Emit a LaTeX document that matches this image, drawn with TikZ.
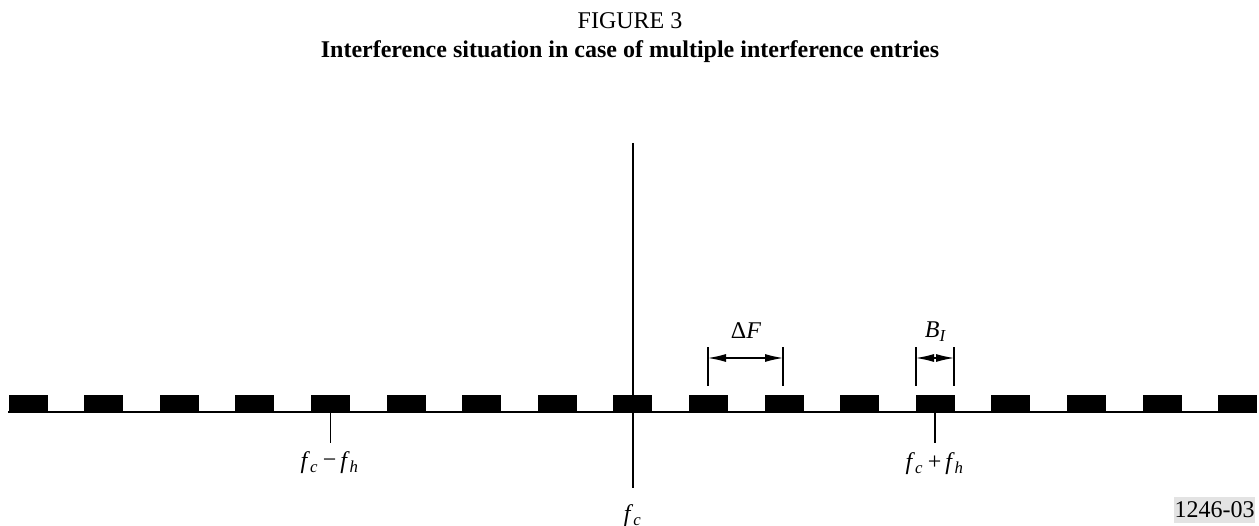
\documentclass[tikz,border=0pt]{standalone}
\usepackage{fontspec}
\setmainfont{Liberation Serif}
\usetikzlibrary{arrows.meta}
\tikzset{
  blk/.style={fill=black, draw=none},
  lbl/.style={font=\fontsize{9.6}{11}\selectfont, inner sep=0pt},
  thin tick/.style={line width=0.45pt},
  dim/.style={line width=0.45pt, {Latex[length=7.2pt,width=3.2pt]}-{Latex[length=7.2pt,width=3.2pt]}}
}
\newcommand{\itl}[1]{\textit{#1}}
\begin{document}
\begin{tikzpicture}[x=0.4pt,y=-0.4pt]
\useasboundingbox (0,0) rectangle (1259,526);
% titles
\node[lbl, anchor=base] (t1) at (630,29) {FIGURE 3};
\node[lbl, anchor=base, font=\fontsize{9.6}{11}\selectfont\bfseries] (t2) at (630,58) {Interference situation in case of multiple interference entries};
% baseline and blocks
\draw[line width=0.8pt] (8,412) coordinate (bl) -- (1257,412) coordinate (br);
\foreach \k in {0,...,16}{
  \fill[blk] ({8.5+75.6*\k},395) rectangle ({47.5+75.6*\k},413);
}
% centre line
\coordinate (ctop) at (633,143);
\coordinate (cbot) at (633,488);
\draw[line width=0.8pt] (ctop) -- (cbot);
\node[lbl] (fc) at (633,516) {\itl{f}\textsubscript{\itl{c}}};
% ticks for fc-fh and fc+fh
\coordinate (m1) at (330.4,413);
\coordinate (m2) at (330.4,443);
\draw[thin tick] (m1) -- (m2);
\node[lbl] (fm) at (330,463) {\itl{f}\textsubscript{\itl{c}}\,\raisebox{0.1ex}{−}\,\itl{f}\textsubscript{\itl{h}}};
\coordinate (p1) at (935,413);
\coordinate (p2) at (935,443);
\draw[thin tick] (p1) -- (p2);
\node[lbl] (fp) at (935,464) {\itl{f}\textsubscript{\itl{c}}\,+\,\itl{f}\textsubscript{\itl{h}}};
% Delta F
\coordinate (d1t) at (708,347); \coordinate (d1b) at (708,386);
\coordinate (d2t) at (783,347); \coordinate (d2b) at (783,386);
\draw[thin tick] (d1t) -- (d1b);
\draw[thin tick] (d2t) -- (d2b);
\coordinate (da) at (708,358); \coordinate (db) at (783,358);
\draw[dim] (da) -- (db);
\node[lbl] (dF) at (746,331) {Δ\itl{F}};
% B_I
\coordinate (b1t) at (916,347); \coordinate (b1b) at (916,386);
\coordinate (b2t) at (954,347); \coordinate (b2b) at (954,386);
\draw[thin tick] (b1t) -- (b1b);
\draw[thin tick] (b2t) -- (b2b);
\coordinate (ba) at (916,358); \coordinate (bb) at (954,358);
\draw[dim] (ba) -- (bb);
\node[lbl] (BI) at (936,332) {\itl{B}\textsubscript{\itl{I}}};
% figure id
\node[lbl, fill=black!11, minimum width=81*0.4pt, minimum height=26*0.4pt] (id) at (1214.5,510) {1246-03};
\end{tikzpicture}
\end{document}
